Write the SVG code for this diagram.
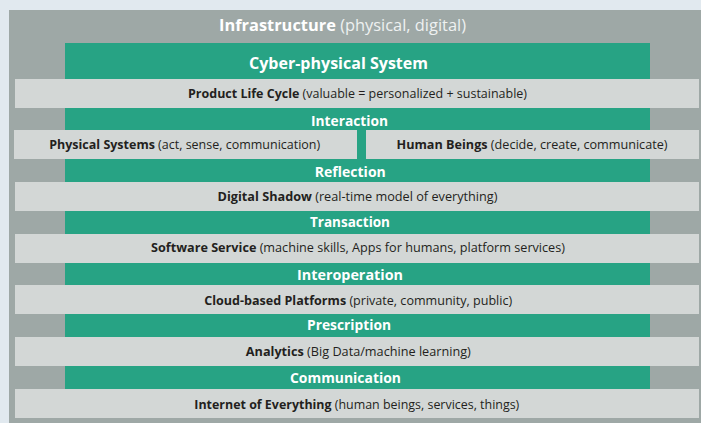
<svg xmlns="http://www.w3.org/2000/svg" width="701" height="423" viewBox="0 0 701 423">
<style>
.bg{fill:#e1e9ef}
.outer{fill:#9ea8a6}
.green{fill:#27a384}
.bar{fill:#d3d7d6}
text{font-family:"Open Sans","Liberation Sans",sans-serif}
.wt{fill:#ffffff;font-weight:bold;text-anchor:middle}
.dt{fill:#231f20;font-size:11.8px;text-anchor:middle}
.b{font-weight:bold}
.n{font-weight:normal}
</style>
<rect class="bg" x="0" y="0" width="701" height="423"/>
<g id="infrastructure">
<rect class="outer" x="9" y="10" width="692" height="413"/>
<text class="wt" x="342.5" y="31" font-size="16.6" textLength="247" lengthAdjust="spacingAndGlyphs">Infrastructure<tspan class="n" fill="#eef1f1"> (physical, digital)</tspan></text>
</g>
<g id="cyber-physical-system">
<rect class="green" x="65" y="43" width="585" height="346"/>
<text class="wt" x="338.5" y="69" font-size="15.8" textLength="179" lengthAdjust="spacingAndGlyphs">Cyber-physical System</text>
</g>
<g id="product-life-cycle">
<rect class="bar" x="15" y="79" width="684" height="29"/>
<text class="dt" x="357.5" y="98" textLength="339" lengthAdjust="spacingAndGlyphs"><tspan class="b">Product Life Cycle</tspan> (valuable = personalized + sustainable)</text>
</g>
<g id="interaction">
<text class="wt" x="349.5" y="126" font-size="13.8" textLength="77" lengthAdjust="spacingAndGlyphs">Interaction</text>
</g>
<g id="physical-systems">
<rect class="bar" x="14" y="130" width="343" height="29"/>
<text class="dt" x="184.7" y="149.3" textLength="271" lengthAdjust="spacingAndGlyphs"><tspan class="b">Physical Systems</tspan> (act, sense, communication)</text>
</g>
<g id="human-beings">
<rect class="bar" x="366" y="130" width="333" height="29"/>
<text class="dt" x="532" y="149.3" textLength="271" lengthAdjust="spacingAndGlyphs"><tspan class="b">Human Beings</tspan> (decide, create, communicate)</text>
</g>
<g id="reflection">
<text class="wt" x="350.3" y="177.3" font-size="13.8" textLength="71" lengthAdjust="spacingAndGlyphs">Reflection</text>
</g>
<g id="digital-shadow">
<rect class="bar" x="15" y="182" width="684" height="29"/>
<text class="dt" x="357.5" y="200.7" textLength="280" lengthAdjust="spacingAndGlyphs"><tspan class="b">Digital Shadow</tspan> (real-time model of everything)</text>
</g>
<g id="transaction">
<text class="wt" x="350" y="226.7" font-size="13.8" textLength="80" lengthAdjust="spacingAndGlyphs">Transaction</text>
</g>
<g id="software-service">
<rect class="bar" x="15" y="234" width="684" height="29"/>
<text class="dt" x="358" y="252" textLength="414" lengthAdjust="spacingAndGlyphs"><tspan class="b">Software Service</tspan> (machine skills, Apps for humans, platform services)</text>
</g>
<g id="interoperation">
<text class="wt" x="350" y="280" font-size="13.8" textLength="106" lengthAdjust="spacingAndGlyphs">Interoperation</text>
</g>
<g id="cloud-based-platforms">
<rect class="bar" x="15" y="285" width="684" height="29"/>
<text class="dt" x="358.2" y="305" textLength="308" lengthAdjust="spacingAndGlyphs"><tspan class="b">Cloud-based Platforms</tspan> (private, community, public)</text>
</g>
<g id="prescription">
<text class="wt" x="349" y="330" font-size="13.8" textLength="84" lengthAdjust="spacingAndGlyphs">Prescription</text>
</g>
<g id="analytics">
<rect class="bar" x="15" y="337" width="684" height="29"/>
<text class="dt" x="358.3" y="356.3" textLength="225" lengthAdjust="spacingAndGlyphs"><tspan class="b">Analytics</tspan> (Big Data/machine learning)</text>
</g>
<g id="communication">
<text class="wt" x="345.5" y="383.3" font-size="13.8" textLength="111" lengthAdjust="spacingAndGlyphs">Communication</text>
</g>
<g id="internet-of-everything">
<rect class="bar" x="15" y="389" width="684" height="29"/>
<text class="dt" x="356.8" y="409" textLength="325" lengthAdjust="spacingAndGlyphs"><tspan class="b">Internet of Everything</tspan> (human beings, services, things)</text>
</g>
<g id="connectors"/>
</svg>
